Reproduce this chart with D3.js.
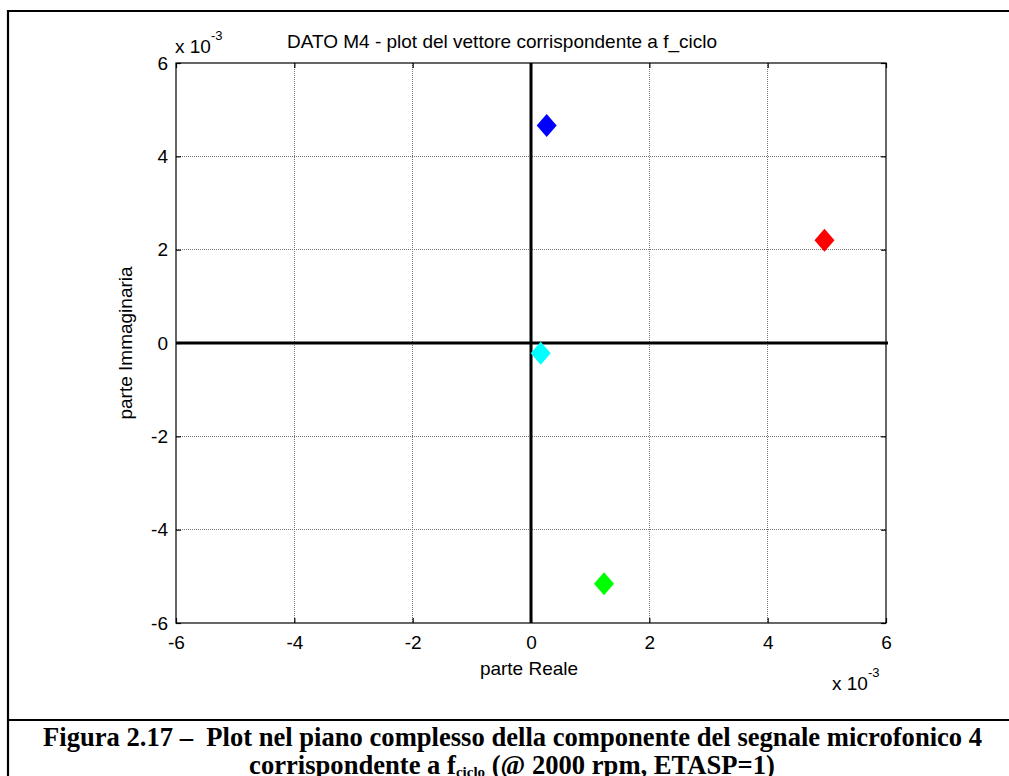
<!DOCTYPE html>
<html>
<head>
<meta charset="utf-8">
<script src="https://cdn.jsdelivr.net/npm/d3@7/dist/d3.min.js"></script>
<style>
  html, body { margin: 0; padding: 0; background: #fff; }
  svg { display: block; }
</style>
</head>
<body>
<svg id="fig" width="1009" height="776"></svg>
<script>
// Phasor components (real / imaginary part) of the microphone-4 signal at f_ciclo
const pointNames = ["M4 a", "M4 b", "M4 c", "M4 d"];
const realParts = [0.265e-3, 4.96e-3, 1.234e-3, 0.164e-3];
const imagParts = [4.66e-3, 2.20e-3, -5.16e-3, -0.22e-3];
const pointColors = ["#0000ff", "#ff0000", "#00ff00", "#00ffff"];

// Axis ticks (values in units of 1e-3)
const tickValues = [-6, -4, -2, 0, 2, 4, 6];
const axisDomain = [-6e-3, 6e-3];

const svg = d3.select("#fig");
const W = 1009, H = 776;
const plot = { left: 176, right: 886, top: 63, bottom: 623 };

const sans = "'Liberation Sans', Arial, Helvetica, sans-serif";
const serif = "'Liberation Serif', 'Times New Roman', serif";
const fs = 19;

// Outer frame and caption separator
svg.append("path")
  .attr("d", `M8,${H + 5} L8,11 L${W + 5},11`)
  .attr("fill", "none").attr("stroke", "#000").attr("stroke-width", 2.2);
svg.append("line")
  .attr("x1", 8).attr("x2", W + 5).attr("y1", 720).attr("y2", 720)
  .attr("stroke", "#000").attr("stroke-width", 2.2);

const x = d3.scaleLinear().domain(axisDomain).range([plot.left, plot.right]);
const y = d3.scaleLinear().domain(axisDomain).range([plot.bottom, plot.top]);
const ticks = tickValues.map(v => v * 1e-3);
// plain hyphen for negatives, as in the MATLAB figure
const fmt = v => String(Math.round(v * 1000));

// Dotted grid
const grid = svg.append("g").attr("stroke", "#777").attr("stroke-width", 1)
  .attr("stroke-dasharray", "1,1").attr("shape-rendering", "crispEdges");
ticks.slice(1, -1).forEach(t => {
  grid.append("line").attr("x1", x(t)).attr("x2", x(t))
    .attr("y1", plot.top).attr("y2", plot.bottom);
  grid.append("line").attr("y1", y(t)).attr("y2", y(t))
    .attr("x1", plot.left).attr("x2", plot.right);
});

// Axes with inward ticks on all four sides
const tickLen = 5;
svg.append("g").attr("transform", `translate(0,${plot.bottom})`)
  .call(d3.axisBottom(x).tickValues(ticks).tickFormat(fmt).tickSizeInner(-tickLen).tickSizeOuter(0).tickPadding(13))
  .call(g => g.select(".domain").remove());
svg.append("g").attr("transform", `translate(0,${plot.top})`)
  .call(d3.axisTop(x).tickValues(ticks).tickFormat("").tickSizeInner(-tickLen).tickSizeOuter(0))
  .call(g => g.select(".domain").remove());
svg.append("g").attr("transform", `translate(${plot.left},0)`)
  .call(d3.axisLeft(y).tickValues(ticks).tickFormat(fmt).tickSizeInner(-tickLen).tickSizeOuter(0).tickPadding(8))
  .call(g => g.select(".domain").remove());
svg.append("g").attr("transform", `translate(${plot.right},0)`)
  .call(d3.axisRight(y).tickValues(ticks).tickFormat("").tickSizeInner(-tickLen).tickSizeOuter(0))
  .call(g => g.select(".domain").remove());

svg.selectAll(".tick text")
  .attr("font-family", sans).attr("font-size", fs).attr("fill", "#000");
svg.selectAll(".tick line").attr("stroke", "#000").attr("stroke-width", 1.2);

// Plot box
svg.append("rect")
  .attr("x", plot.left).attr("y", plot.top)
  .attr("width", plot.right - plot.left).attr("height", plot.bottom - plot.top)
  .attr("fill", "none").attr("stroke", "#000").attr("stroke-width", 1.2);

// Thick real and imaginary axes through the origin
svg.append("line")
  .attr("x1", x(axisDomain[0])).attr("x2", x(axisDomain[1]) + 2)
  .attr("y1", y(0)).attr("y2", y(0))
  .attr("stroke", "#000").attr("stroke-width", 3);
svg.append("line")
  .attr("x1", x(0)).attr("x2", x(0))
  .attr("y1", y(axisDomain[0])).attr("y2", y(axisDomain[1]))
  .attr("stroke", "#000").attr("stroke-width", 3);

// Diamond markers
const dw = 10, dh = 11.5;
const diamond = `M0,${-dh} L${dw},0 L0,${dh} L${-dw},0 Z`;
svg.append("g").selectAll("path")
  .data(pointNames.map((n, i) => ({ n, re: realParts[i], im: imagParts[i], c: pointColors[i] })))
  .join("path")
  .attr("d", diamond)
  .attr("transform", d => `translate(${x(d.re)},${y(d.im)})`)
  .attr("fill", d => d.c);

// Titles and labels
svg.append("text")
  .attr("x", 502).attr("y", 48).attr("text-anchor", "middle")
  .attr("font-family", sans).attr("font-size", fs)
  .text("DATO M4 - plot del vettore corrispondente a f_ciclo");

svg.append("text")
  .attr("x", 529).attr("y", 675).attr("text-anchor", "middle")
  .attr("font-family", sans).attr("font-size", fs)
  .text("parte Reale");

svg.append("text")
  .attr("transform", `translate(132,${y(0)}) rotate(-90)`)
  .attr("text-anchor", "middle")
  .attr("font-family", sans).attr("font-size", fs)
  .text("parte Immaginaria");

// Exponent labels
function exponent(xPos, yPos) {
  const t = svg.append("text").attr("x", xPos).attr("y", yPos)
    .attr("font-family", sans).attr("font-size", fs);
  t.append("tspan").text("x 10");
  t.append("tspan").attr("dy", -13).attr("font-size", 13).text("-3");
}
exponent(175, 53);
exponent(832, 690);

// Caption (second line runs to the lower edge of the page)
svg.append("text")
  .attr("x", 43).attr("y", 746)
  .attr("font-family", serif).attr("font-weight", "bold").attr("font-size", 26.6)
  .attr("xml:space", "preserve")
  .text("Figura 2.17 \u2013  Plot nel piano complesso della componente del segnale microfonico 4");

const cap2 = svg.append("text")
  .attr("x", 512).attr("y", 774).attr("text-anchor", "middle")
  .attr("font-family", serif).attr("font-weight", "bold").attr("font-size", 26.6);
cap2.append("tspan").text("corrispondente a f");
cap2.append("tspan").attr("font-size", 15).attr("dy", 3).text("ciclo");
cap2.append("tspan").attr("dy", -3).text(" (@ 2000 rpm, ETASP=1)");
</script>
</body>
</html>
